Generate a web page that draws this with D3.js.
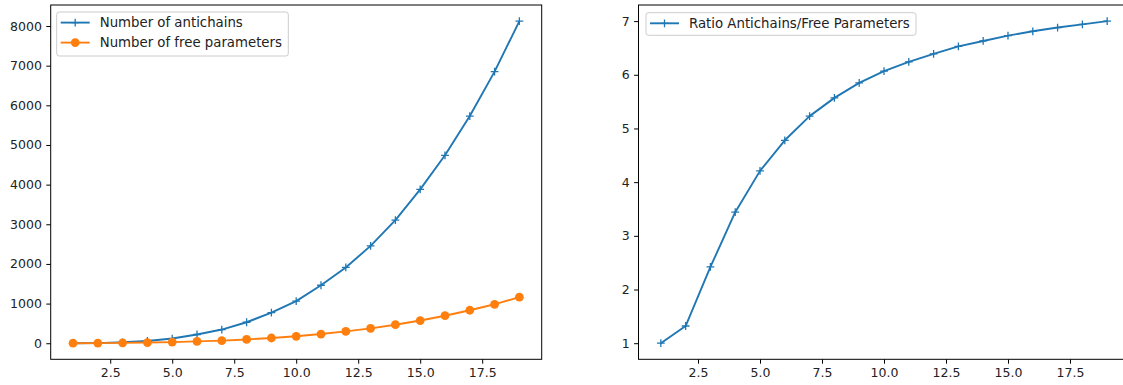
<!DOCTYPE html>
<html>
<head>
<meta charset="utf-8">
<script src="https://cdn.jsdelivr.net/npm/d3@7"></script>
<style>
  html, body { margin: 0; padding: 0; background: #fff; }
  svg { display: block; }
  text { font-family: "DejaVu Sans", sans-serif; fill: #222; }
</style>
</head>
<body>
<svg id="chart" width="1123" height="385"></svg>
<script>
// ---- data ----
const nValues = [1, 2, 3, 4, 5, 6, 7, 8, 9, 10, 11, 12, 13, 14, 15, 16, 17, 18, 19];
const antichains = [1, 4, 24, 58, 118, 220, 345, 529, 772, 1062, 1462, 1912, 2455, 3105, 3880, 4740, 5730, 6850, 8124];
const freeParams = [1, 3, 10, 17, 28, 46, 66, 95, 132, 175, 232, 298, 375, 467, 572, 694, 832, 982, 1162];
const ratio = [1.0, 1.32, 2.42, 3.44, 4.21, 4.78, 5.23, 5.57, 5.85, 6.07, 6.24, 6.39, 6.53, 6.63, 6.73, 6.81, 6.88, 6.94, 7.0];
const xTicks = [2.5, 5.0, 7.5, 10.0, 12.5, 15.0, 17.5];
const leftYTicks = [0, 1000, 2000, 3000, 4000, 5000, 6000, 7000, 8000];
const rightYTicks = [1, 2, 3, 4, 5, 6, 7];
const leftLegend = ["Number of antichains", "Number of free parameters"];
const rightLegend = ["Ratio Antichains/Free Parameters"];

const BLUE = "#1f77b4", ORANGE = "#ff7f0e";
const svg = d3.select("#chart");

function padDomain(vals) {
  const lo = d3.min(vals), hi = d3.max(vals), s = hi - lo;
  return [lo - 0.05 * s, hi + 0.05 * s];
}

function panel(box, series, yTicks, yFmt, legendItems, legendBox) {
  const g = svg.append("g");
  const x = d3.scaleLinear().domain(padDomain(nValues)).range([box.x0, box.x1]);
  const allY = series.flatMap(s => s.values);
  const y = d3.scaleLinear().domain(padDomain(allY)).range([box.y1, box.y0]);

  const clipId = "clip" + Math.round(box.x0);
  svg.append("clipPath").attr("id", clipId).append("rect")
    .attr("x", box.x0).attr("y", box.y0).attr("width", box.x1 - box.x0).attr("height", box.y1 - box.y0);

  const plot = g.append("g").attr("clip-path", `url(#${clipId})`);
  series.forEach(s => {
    const pts = nValues.map((n, i) => [n, s.values[i]]);
    plot.append("path")
      .attr("d", d3.line().x(d => x(d[0])).y(d => y(d[1]))(pts))
      .attr("fill", "none").attr("stroke", s.color).attr("stroke-width", 1.9)
      .attr("stroke-linejoin", "round");
    if (s.marker === "circle") {
      plot.selectAll(null).data(pts).enter().append("circle")
        .attr("cx", d => x(d[0])).attr("cy", d => y(d[1])).attr("r", 4.4)
        .attr("fill", s.color);
    } else {
      plot.selectAll(null).data(pts).enter().append("path")
        .attr("d", d => `M${x(d[0]) - 3.9},${y(d[1])}H${x(d[0]) + 3.9}M${x(d[0])},${y(d[1]) - 3.9}V${y(d[1]) + 3.9}`)
        .attr("stroke", s.color).attr("stroke-width", 1.3);
    }
  });

  // axes
  const xAxis = d3.axisBottom(x).tickValues(xTicks).tickFormat(d3.format(".1f")).tickSize(4.4).tickPadding(4.4);
  const yAxis = d3.axisLeft(y).tickValues(yTicks).tickFormat(yFmt).tickSize(4.4).tickPadding(4.4);
  const gx = g.append("g").attr("transform", `translate(0,${box.y1})`).call(xAxis);
  const gy = g.append("g").attr("transform", `translate(${box.x0},0)`).call(yAxis);
  [gx, gy].forEach(a => {
    a.select(".domain").remove();
    a.selectAll(".tick line").attr("stroke", "#000").attr("stroke-width", 1);
    a.selectAll(".tick text").style("font-size", "12.5px").style("font-family", "DejaVu Sans").attr("fill", "#222");
  });

  // spines
  g.append("rect").attr("x", box.x0).attr("y", box.y0)
    .attr("width", box.x1 - box.x0).attr("height", box.y1 - box.y0)
    .attr("fill", "none").attr("stroke", "#000").attr("stroke-width", 1);

  // legend
  const lg = g.append("g");
  lg.append("rect").attr("x", legendBox.x).attr("y", legendBox.y)
    .attr("width", legendBox.w).attr("height", legendBox.h)
    .attr("rx", 2.5).attr("fill", "#fff").attr("fill-opacity", 0.8)
    .attr("stroke", "#cccccc").attr("stroke-width", 1);
  legendItems.forEach((item, i) => {
    const cy = legendBox.y + 10.6 + i * 20;
    const hx0 = legendBox.x + 4, hx1 = legendBox.x + 33, hm = (hx0 + hx1) / 2;
    lg.append("line").attr("x1", hx0).attr("x2", hx1).attr("y1", cy).attr("y2", cy)
      .attr("stroke", item.color).attr("stroke-width", 1.9);
    if (item.marker === "circle") {
      lg.append("circle").attr("cx", hm).attr("cy", cy).attr("r", 4.4).attr("fill", item.color);
    } else {
      lg.append("path").attr("d", `M${hm - 3.9},${cy}H${hm + 3.9}M${hm},${cy - 3.9}V${cy + 3.9}`)
        .attr("stroke", item.color).attr("stroke-width", 1.3);
    }
    lg.append("text").attr("x", legendBox.x + 43).attr("y", cy).attr("dy", "0.36em")
      .style("font-size", "13.3px").text(item.label);
  });
}

panel({ x0: 50.7, x1: 541.7, y0: 5, y1: 359.3 },
  [{ values: antichains, color: BLUE, marker: "plus" },
   { values: freeParams, color: ORANGE, marker: "circle" }],
  leftYTicks, d3.format("d"),
  [{ label: leftLegend[0], color: BLUE, marker: "plus" },
   { label: leftLegend[1], color: ORANGE, marker: "circle" }],
  { x: 56.7, y: 12, w: 231.6, h: 44 });

panel({ x0: 638.5, x1: 1129.5, y0: 5, y1: 359.3 },
  [{ values: ratio, color: BLUE, marker: "plus" }],
  rightYTicks, d3.format("d"),
  [{ label: rightLegend[0], color: BLUE, marker: "plus" }],
  { x: 646, y: 12.7, w: 270, h: 22.6 });
</script>
</body>
</html>
